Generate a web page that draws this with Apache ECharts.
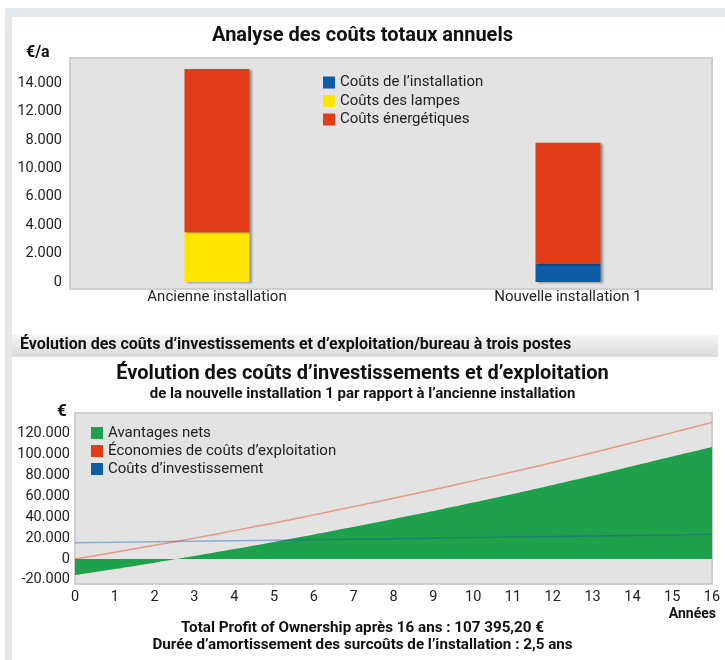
<!DOCTYPE html>
<html><head><meta charset="utf-8">
<script src="https://cdn.jsdelivr.net/npm/echarts@6/dist/echarts.min.js"></script>
<style>html,body{margin:0;padding:0;background:#fff}#c{width:725px;height:660px}</style>
</head><body><div id="c"></div>
<script>
// ---- Top chart data ----
const barCategories = ['Ancienne installation', 'Nouvelle installation 1'];
const installCosts = [0, 1300];
const lampCosts = [3500, 0];
const energyCosts = [11500, 8500];
const barTickLabels = ['0', '2.000', '4.000', '6.000', '10.000', '8.000', '12.000', '14.000'];

// ---- Bottom chart data ----
const years = [0, 1, 2, 3, 4, 5, 6, 7, 8, 9, 10, 11, 12, 13, 14, 15, 16];
const netBenefit = [-15500, -9600, -3500, 2800, 9500, 16300, 23400, 30800, 38300, 46000, 54100, 62400, 71000, 79800, 88900, 98200, 107395];
const opSavings = [0, 6500, 13100, 20000, 27200, 34600, 42300, 50200, 58200, 66400, 74900, 83600, 92600, 101900, 111500, 121200, 131000];
const investCosts = [15500, 16000, 16500, 17000, 17500, 18000, 18500, 19000, 19500, 20000, 20500, 21000, 21500, 22000, 22500, 23000, 23600];
const lineTickLabels = ['-20.000', '0', '20.000', '40.000', '60.000', '80.000', '100.000', '120.000'];

const FONT = 'Roboto';
const C_BLUE = '#0d5ca6', C_YEL = '#ffe600', C_RED = '#e23d18', C_GREEN = '#1fa04b';
const pairs = arr => years.map((y, i) => [y, arr[i]]);
const shadow = {shadowColor: 'rgba(0,0,0,0.35)', shadowBlur: 2, shadowOffsetX: 2, shadowOffsetY: 1};

const chart = echarts.init(document.getElementById('c'), null, {renderer: 'canvas'});
chart.setOption({
  animation: false,
  textStyle: {fontFamily: FONT},
  graphic: [
    {type: 'rect', z: -10, shape: {x: 5, y: 8, width: 720, height: 9}, style: {fill: '#e4e8ec'}},
    {type: 'rect', z: -10, shape: {x: 5, y: 8, width: 7, height: 652}, style: {fill: '#e4e8ec'}},
    {type: 'rect', z: -10, shape: {x: 70, y: 58, width: 642, height: 231}, style: {fill: '#e3e3e3', stroke: '#cfcfcf', lineWidth: 2}},
    {type: 'rect', z: -10, shape: {x: 12, y: 335, width: 706, height: 22},
      style: {fill: new echarts.graphic.LinearGradient(0, 0, 0, 1, [{offset: 0, color: '#f4f4f4'}, {offset: 1, color: '#dadada'}])}},
    {type: 'rect', z: -10, shape: {x: 75, y: 413, width: 637, height: 171}, style: {fill: '#e3e3e3', stroke: '#cfcfcf', lineWidth: 2}},
    {type: 'text', left: 'center', top: 26, style: {text: 'Analyse des coûts totaux annuels', font: 'bold 20px ' + FONT, fill: '#111'}},
    {type: 'text', left: 26, top: 45, style: {text: '€/a', font: 'bold 16px ' + FONT, fill: '#111'}},
    {type: 'text', left: 20, top: 337, style: {text: 'Évolution des coûts d’investissements et d’exploitation/bureau à trois postes', font: 'bold 16px ' + FONT, fill: '#111'}},
    {type: 'text', left: 'center', top: 364, style: {text: 'Évolution des coûts d’investissements et d’exploitation', font: 'bold 20px ' + FONT, fill: '#111'}},
    {type: 'text', left: 'center', top: 387, style: {text: 'de la nouvelle installation 1 par rapport à l’ancienne installation', font: 'bold 15px ' + FONT, fill: '#111'}},
    {type: 'text', left: 57, top: 403, style: {text: '€', font: 'bold 17px ' + FONT, fill: '#111'}},
    {type: 'text', right: 9, top: 607, style: {text: 'Années', font: 'bold 14px ' + FONT, fill: '#111'}},
    {type: 'text', left: 'center', top: 621, style: {text: 'Total Profit of Ownership après 16 ans : 107 395,20 €', font: 'bold 15.2px ' + FONT, fill: '#111'}},
    {type: 'text', left: 'center', top: 638, style: {text: 'Durée d’amortissement des surcoûts de l’installation : 2,5 ans', font: 'bold 15.2px ' + FONT, fill: '#111'}}
  ],
  legend: [
    {orient: 'vertical', left: 318, top: 70, itemWidth: 12, itemHeight: 12, itemGap: 3.5, icon: 'rect',
      textStyle: {fontSize: 15, color: '#222', fontFamily: FONT},
      data: ['Coûts de l’installation', 'Coûts des lampes', 'Coûts énergétiques']},
    {orient: 'vertical', left: 86, top: 420.5, itemWidth: 12, itemHeight: 12, itemGap: 3, icon: 'rect',
      textStyle: {fontSize: 15, color: '#222', fontFamily: FONT},
      data: [
        {name: 'Avantages nets', itemStyle: {color: C_GREEN, opacity: 1}},
        {name: 'Économies de coûts d’exploitation', itemStyle: {color: C_RED, opacity: 1}},
        {name: 'Coûts d’investissement', itemStyle: {color: C_BLUE, opacity: 1}}
      ]}
  ],
  grid: [
    {left: 217, right: 157, top: 54.8, bottom: 660 - 282, containLabel: false},
    {left: 75, right: 13, top: 413, bottom: 660 - 584, containLabel: false}
  ],
  xAxis: [
    {gridIndex: 0, type: 'category', data: barCategories, boundaryGap: false,
      axisLine: {show: false}, axisTick: {show: false},
      axisLabel: {fontSize: 15, color: '#222', margin: 8}},
    {gridIndex: 1, type: 'value', min: 0, max: 16, interval: 1,
      axisLine: {show: false}, axisTick: {show: false}, splitLine: {show: false},
      axisLabel: {fontSize: 14.5, color: '#222', margin: 6}}
  ],
  yAxis: [
    {gridIndex: 0, type: 'value', min: 0, max: 16000, interval: 2000, offset: 147,
      axisLine: {show: false}, axisTick: {show: false}, splitLine: {show: false},
      axisLabel: {fontSize: 14.5, color: '#222', margin: 8,
        formatter: v => { const i = Math.round(v / 2000); return (Math.abs(v - i * 2000) < 1e-6 && i >= 0 && i < barTickLabels.length) ? barTickLabels[i] : ''; }}},
    {gridIndex: 1, type: 'value', min: -24000, max: 140000, interval: 4000,
      axisLine: {show: false}, axisTick: {show: false}, splitLine: {show: false},
      axisLabel: {fontSize: 14.5, color: '#222', margin: 5,
        formatter: v => { if (v % 20000 !== 0) return ''; const i = (v + 20000) / 20000; return lineTickLabels[i] || ''; }}}
  ],
  series: [
    {name: 'Coûts de l’installation', type: 'bar', stack: 'a', xAxisIndex: 0, yAxisIndex: 0, barWidth: 65,
      itemStyle: Object.assign({color: C_BLUE}, shadow), data: installCosts},
    {name: 'Coûts des lampes', type: 'bar', stack: 'a', xAxisIndex: 0, yAxisIndex: 0, barWidth: 65,
      itemStyle: Object.assign({color: C_YEL}, shadow), data: lampCosts},
    {name: 'Coûts énergétiques', type: 'bar', stack: 'a', xAxisIndex: 0, yAxisIndex: 0, barWidth: 65,
      itemStyle: Object.assign({color: C_RED}, shadow), data: energyCosts},
    {name: 'Avantages nets', type: 'line', xAxisIndex: 1, yAxisIndex: 1, z: 2, smooth: 0.3,
      showSymbol: false, symbol: 'none', itemStyle: {color: C_GREEN},
      lineStyle: {width: 0}, areaStyle: {color: C_GREEN, opacity: 1, origin: 0}, data: pairs(netBenefit)},
    {name: 'Économies de coûts d’exploitation', type: 'line', xAxisIndex: 1, yAxisIndex: 1, z: 3, smooth: 0.3,
      showSymbol: false, symbol: 'none', itemStyle: {color: C_RED},
      lineStyle: {width: 1.5, color: C_RED, opacity: 0.45}, data: pairs(opSavings)},
    {name: 'Coûts d’investissement', type: 'line', xAxisIndex: 1, yAxisIndex: 1, z: 3, smooth: 0.3,
      showSymbol: false, symbol: 'none', itemStyle: {color: C_BLUE},
      lineStyle: {width: 1.5, color: C_BLUE, opacity: 0.4}, data: pairs(investCosts)}
  ]
});
</script></body></html>
